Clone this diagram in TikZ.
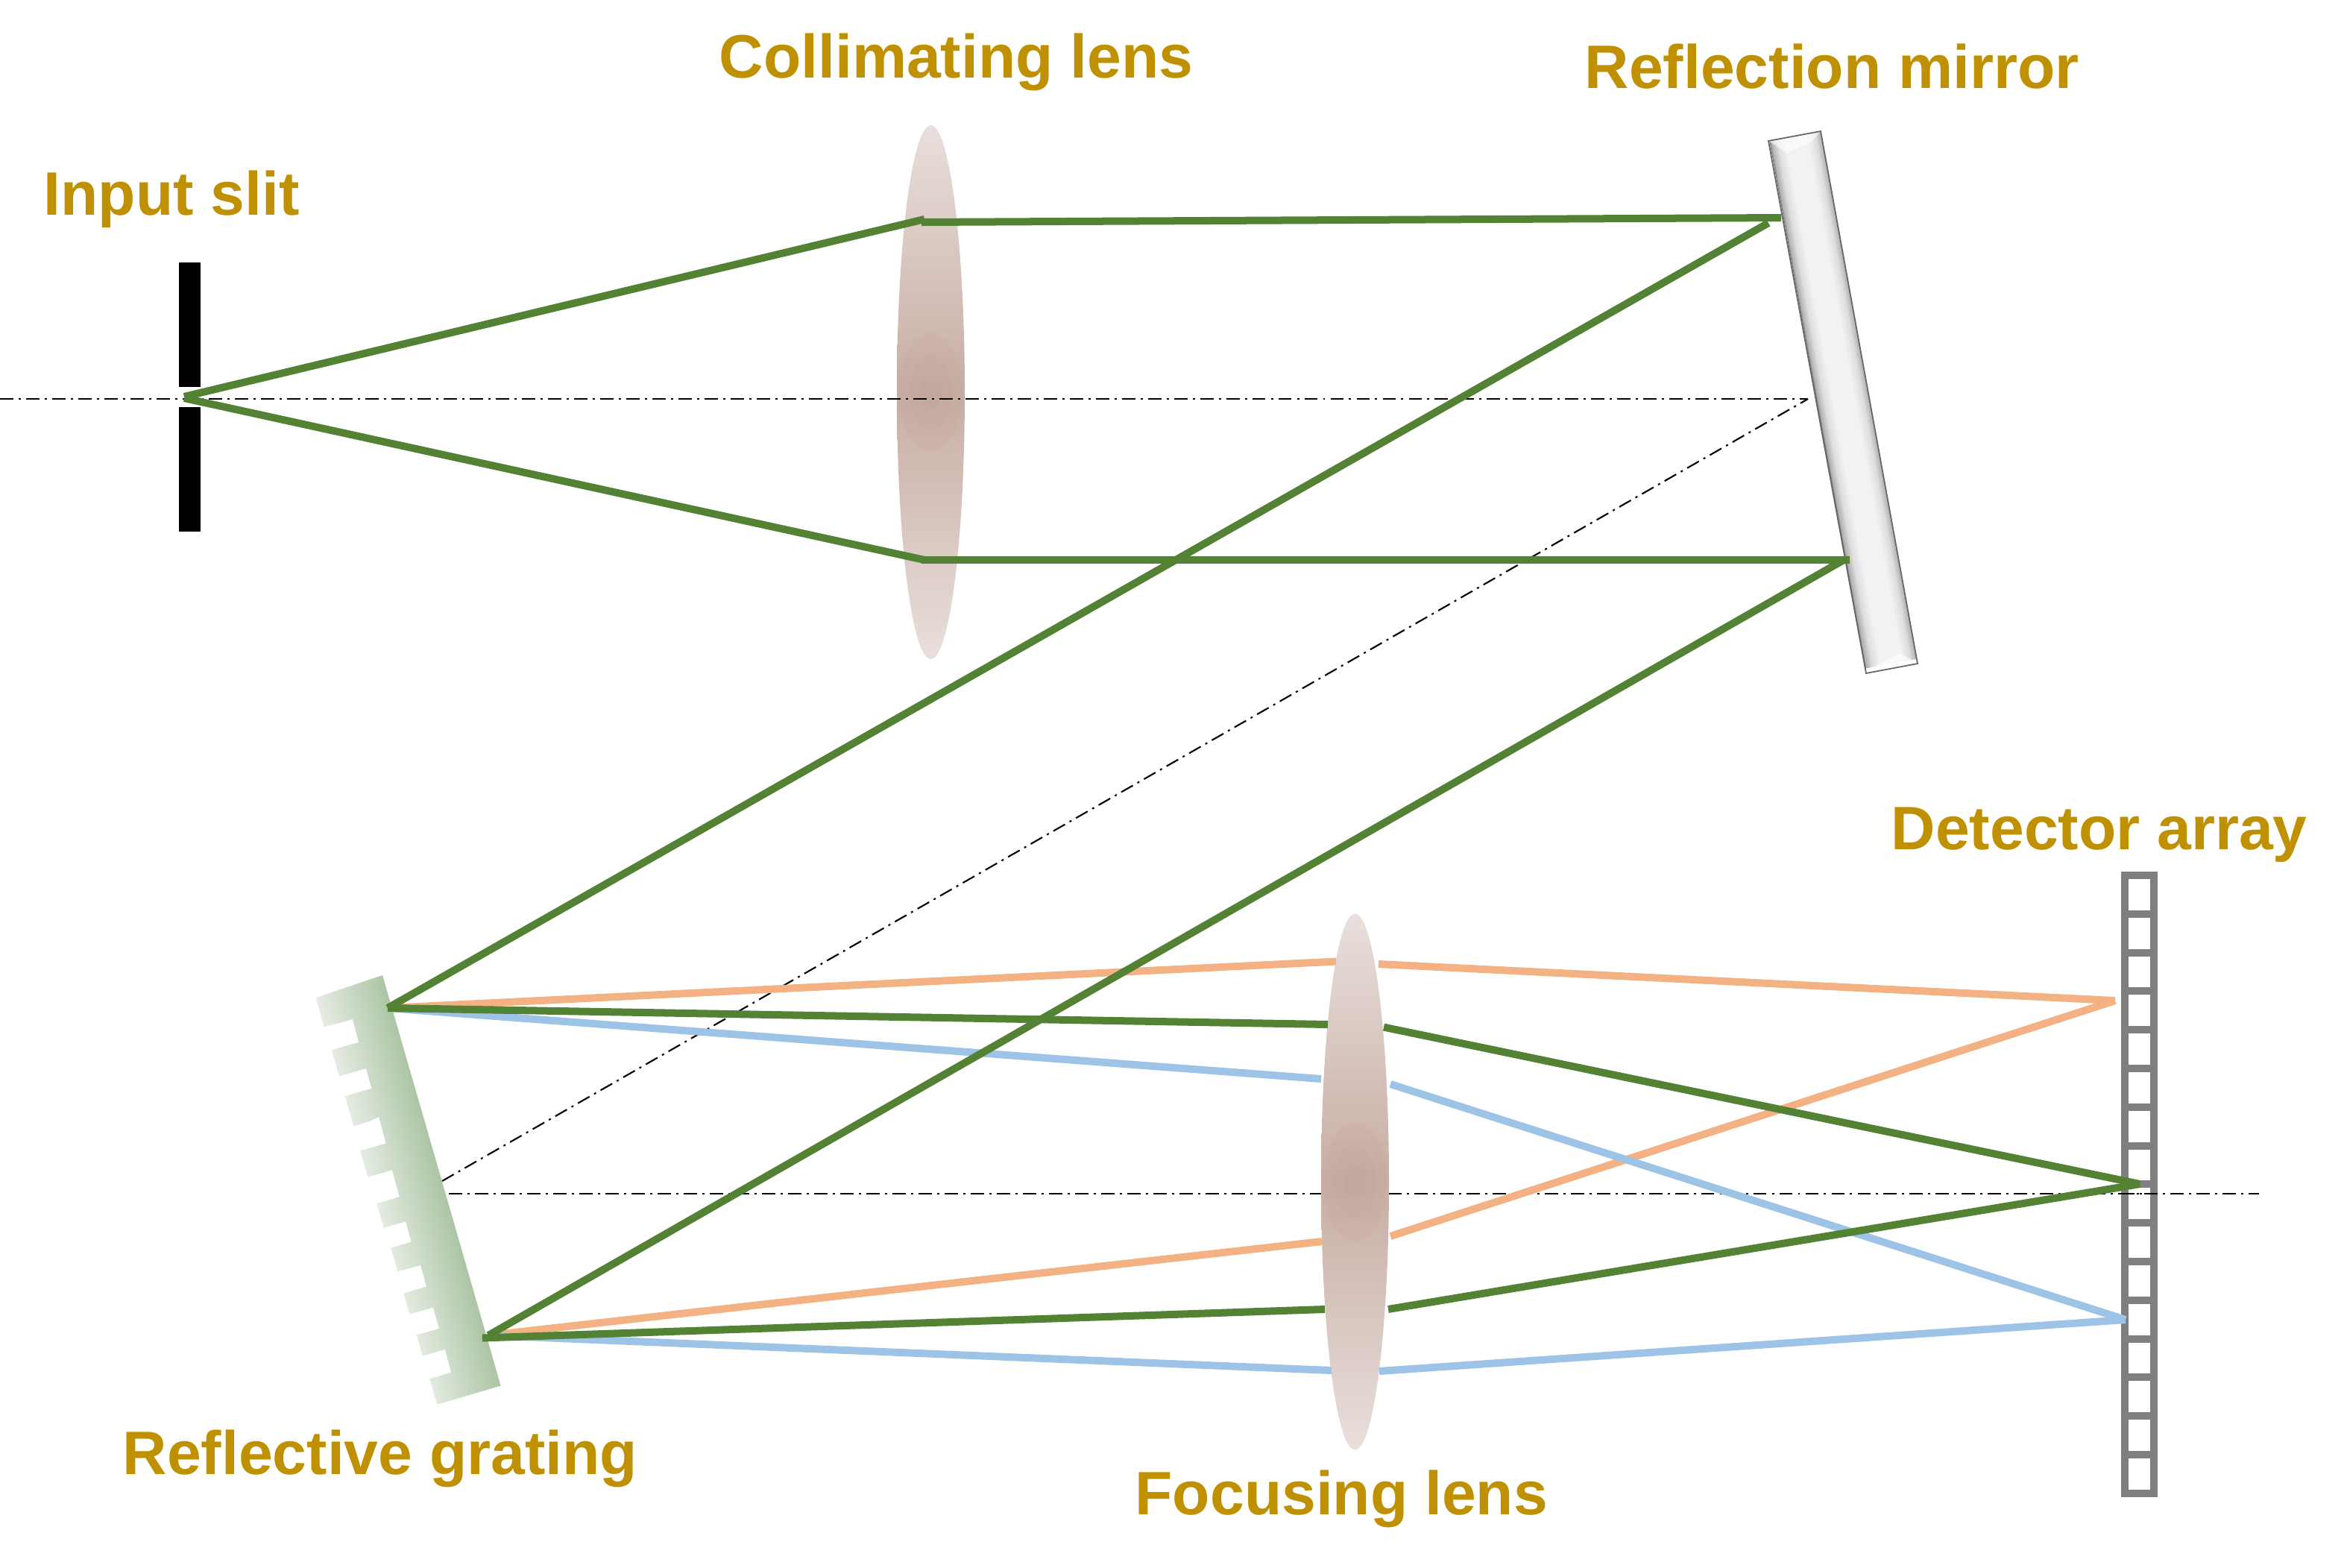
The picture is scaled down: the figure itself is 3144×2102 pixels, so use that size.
\documentclass[tikz,border=0pt]{standalone}
\usepackage{fontspec}
\setmainfont{Liberation Sans}
\usepackage{xcolor}
\definecolor{labelgold}{HTML}{BF9000}
\definecolor{raygreen}{HTML}{548235}
\definecolor{rayorange}{HTML}{F4B183}
\definecolor{rayblue}{HTML}{9DC3E6}
\definecolor{lensrim}{HTML}{E9DFDC}
\definecolor{lensmid}{HTML}{C7ADA3}
\definecolor{lenscore}{HTML}{B5948A}
\definecolor{gratingpale}{HTML}{E6ECE3}
\definecolor{gratingdark}{HTML}{ABC5A4}
\definecolor{cellgray}{HTML}{7F7F7F}
\pgfdeclarehorizontalshading{mirrorbevel}{100bp}{
  color(0bp)=(black!55); color(25bp)=(black!55); color(26bp)=(black!32);
  color(32bp)=(black!13); color(40bp)=(black!5); color(60bp)=(black!5);
  color(68bp)=(black!13); color(74bp)=(black!32); color(75bp)=(black!60);
  color(100bp)=(black!60)}
\usepackage{tikz}
\usetikzlibrary{calc}
\tikzset{
  ray/.style={line width=0.1cm, line cap=butt},
  axisline/.style={line width=0.6pt, dash pattern=on 5.1pt off 2pt on 0.85pt off 2pt},
  partlabel/.style={anchor=base west, inner sep=0pt, text=labelgold,
    font=\fontsize{23.4pt}{28pt}\selectfont\bfseries},
  lensbody/.style={top color=lensrim, bottom color=lensrim, middle color=lensmid}
}

\begin{document}
\begin{tikzpicture}[x=0.01cm, y=-0.01cm]
  \useasboundingbox (0, 0) rectangle (3144, 2102);

  % optical axes, the lower ones run behind the focusing lens
  \coordinate (axisL) at (0, 535);
  \coordinate (axisM) at (2425, 535);
  \coordinate (axisG) at (593, 1584);
  \coordinate (axisB) at (602, 1601);
  \coordinate (axisD) at (3030, 1601);
  \draw[axisline] (axisG) -- (axisM);
  \draw[axisline] (axisB) -- (axisD);

  % detector array
  \draw[cellgray, line width=0.1cm] (2850, 1174) rectangle (2889, 2003);
  \foreach \i in {1,...,15}
    \draw[cellgray, line width=0.1cm] (2850, 1174 + 51.8*\i) -- (2889, 1174 + 51.8*\i);
  \draw[axisline] (2845, 1601) -- (2894, 1601);

  % lenses
  \shade[lensbody] (1248.5, 526) ellipse [x radius=45.5, y radius=358];
  \shade[lensbody] (1817.5, 1585) ellipse [x radius=45.5, y radius=359.5];
  \foreach \rx/\ry in {42/80, 28/50, 15/22} {
    \fill[lenscore, opacity=0.08] (1248.5, 526) ellipse [x radius=\rx, y radius=\ry];
    \fill[lenscore, opacity=0.08] (1817.5, 1585) ellipse [x radius=\rx, y radius=\ry];
  }
  \draw[axisline] (axisL) -- (axisM);

  % input slit
  \fill[black] (240, 351.5) rectangle (269, 519);
  \fill[black] (240, 546) rectangle (269, 713);

  % reflection mirror
  \begin{scope}
    \clip (2372, 189) -- (2442, 176) -- (2572, 890) -- (2503, 903) -- cycle;
    \shade[shading=mirrorbevel, transform canvas={rotate around={10.3:(2472, 533)}}]
      (2436.4, 170) rectangle (2507.6, 896);
  \end{scope}
  \fill[white, opacity=0.6] (2372, 189) -- (2442, 176) -- (2430, 190) -- (2397, 205) -- cycle;
  \fill[white, opacity=0.6] (2503, 903) -- (2572, 890) -- (2549, 876) -- (2519, 891) -- cycle;
  \draw[black!60, line width=0.5pt] (2372, 189) -- (2442, 176) -- (2572, 890) -- (2503, 903) -- cycle;

  % reflective grating
  \begin{scope}
    \clip (422.7, 1338.3) -- (434, 1377.8) -- (473, 1366.9) -- (481, 1398) -- (444.7, 1408.1)
      -- (455, 1443.5) -- (491, 1433) -- (498.3, 1459.9) -- (462.7, 1470) -- (474.3, 1510.4)
      -- (495, 1504.1) -- (508, 1497.8) -- (517.7, 1533.6) -- (483, 1543.2) -- (493.3, 1578.6)
      -- (526, 1569.3) -- (535.7, 1605.1) -- (505.3, 1614.4) -- (514.7, 1646.8) -- (544, 1638.4)
      -- (551.7, 1665.7) -- (524.3, 1673.7) -- (533.7, 1705.3) -- (564, 1696.9) -- (572, 1725.5)
      -- (541.3, 1734.7) -- (549.3, 1762.5) -- (581, 1753.7) -- (589, 1781.9) -- (558.7, 1790.3)
      -- (566.7, 1818.5) -- (597, 1809.7) -- (605, 1840.8) -- (576.3, 1849.2) -- (586.3, 1883.7)
      -- (672, 1858.5) -- (513, 1308) -- cycle;
    \shade[left color=gratingpale, right color=gratingdark,
      transform canvas={rotate around={16:(547.5, 1598)}}]
      (500, 1270) rectangle (595, 1926);
  \end{scope}

  % ray end points
  \coordinate (slitU) at (247, 532);
  \coordinate (slitD) at (247, 534);
  \coordinate (colUa) at (1240, 294);
  \coordinate (colUb) at (1236, 298);
  \coordinate (colDa) at (1240, 751);
  \coordinate (colDb) at (1236, 751);
  \coordinate (mirU) at (2389, 292);
  \coordinate (mirUb) at (2372, 299);
  \coordinate (mirD) at (2481, 751);
  \coordinate (mirDb) at (2473, 751);
  \coordinate (grU) at (520, 1352);
  \coordinate (grD) at (647, 1794.5);
  \coordinate (grDb) at (655, 1791);
  \coordinate (detO) at (2837, 1342);
  \coordinate (detG) at (2870, 1588);
  \coordinate (detB) at (2851, 1770);

  % orange and blue first, green over them
  \draw[ray, rayorange] (grU) -- (1792, 1289.5);
  \draw[ray, rayorange] (1849, 1293) -- (detO);
  \draw[ray, rayorange] (grDb) -- (1773, 1665);
  \draw[ray, rayorange] (1865, 1658) -- (detO);
  \draw[ray, rayblue] (grU) -- (1772, 1447);
  \draw[ray, rayblue] (1865, 1454) -- (detB);
  \draw[ray, rayblue] (grDb) -- (1786, 1838);
  \draw[ray, rayblue] (1850, 1839) -- (detB);
  \draw[ray, raygreen] (slitU) -- (colUa);
  \draw[ray, raygreen] (colUb) -- (mirU);
  \draw[ray, raygreen] (slitD) -- (colDa);
  \draw[ray, raygreen] (colDb) -- (mirD);
  \draw[ray, raygreen] (grU) -- (1781, 1374);
  \draw[ray, raygreen] (1856, 1377.6) -- (detG);
  \draw[ray, raygreen] (grD) -- (1777, 1756);
  \draw[ray, raygreen] (1862, 1756) -- (detG);
  \draw[ray, raygreen] (mirUb) -- (grU);
  \draw[ray, raygreen] (mirDb) -- (grDb);

  \node[partlabel] (slitlabel) at (58, 288) {Input slit};
  \node[partlabel] (collimlabel) at (964, 104) {Collimating lens};
  \node[partlabel] (mirrorlabel) at (2125, 118) {Reflection mirror};
  \node[partlabel] (detectorlabel) at (2536, 1139) {Detector array};
  \node[partlabel] (gratinglabel) at (164, 1977) {Reflective grating};
  \node[partlabel] (focuslabel) at (1522, 2031) {Focusing lens};
\end{tikzpicture}
\end{document}
